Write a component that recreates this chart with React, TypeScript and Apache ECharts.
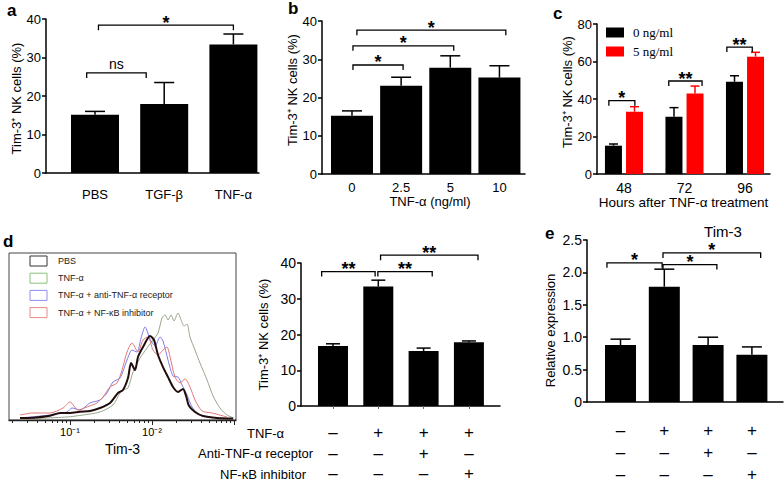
import React, { useEffect, useRef } from "react";
import * as echarts from "echarts";

const FONT = "'Liberation Sans', Arial, Helvetica, sans-serif";
const SERIF = "'Liberation Serif', 'Times New Roman', serif";

// ---------- Panel a ----------
const aCategories = ["PBS", "TGF-β", "TNF-α"];
const aValues = [15.1, 17.9, 33.4];
const aErrors = [0.9, 5.6, 2.7];
const aBrackets: any[] = [[-0.12, 0.74, 26.0, "ns"], [0.05, 2.0, 38.4, "*"]];

// ---------- Panel b ----------
const bCategories = ["0", "2.5", "5", "10"];
const bValues = [15.2, 23.1, 27.8, 25.2];
const bErrors = [1.3, 2.2, 3.1, 3.1];
const bBrackets: any[] = [[0.02, 1.04, 28.5, "*"], [0.02, 2.07, 33.5, "*"], [0.1, 3.13, 37.6, "*"]];

// ---------- Panel c ----------
const cCategories = ["48", "72", "96"];
const cSeriesNames = ["0 ng/ml", "5 ng/ml"];
const c0Values = [15.1, 30.6, 49.2];
const c0Errors = [0.9, 4.8, 3.2];
const c5Values = [33.2, 43.0, 62.6];
const c5Errors = [2.7, 3.9, 2.3];
const cBrackets: any[] = [[-0.25, 0.18, 39.1, "*"], [0.74, 1.29, 49.6, "**"], [1.7, 2.12, 67.7, "**"]];

// ---------- Panel d (histogram: [log10 intensity, % of max]) ----------
const histNames = ["PBS", "TNF-α", "TNF-α + anti-TNF-α receptor", "TNF-α + NF-κB inhibitor"];
const histTickValues = [1, 2];
const histTickLabels = ["10⁻¹", "10⁻²"];
const pbsHist = [[0.39, 1.2], [0.55, 1.4], [0.756, 2.6], [0.878, 4.2], [1.0, 4.2], [1.122, 5.0], [1.244, 5.4], [1.366, 7.2], [1.488, 10.2], [1.585, 16.2], [1.646, 18.0], [1.707, 25.1], [1.744, 34.1], [1.793, 29.9], [1.829, 37.7], [1.89, 43.7], [1.976, 50.3], [2.024, 47.9], [2.073, 38.9], [2.134, 31.7], [2.195, 25.7], [2.256, 19.8], [2.317, 16.8], [2.378, 18.6], [2.415, 14.4], [2.45, 8.5], [2.524, 4.8], [2.622, 2.4], [2.793, 1.2], [2.988, 0.9]];
const tnfHist = [[0.39, 0.6], [0.963, 1.8], [1.159, 3.0], [1.366, 4.8], [1.524, 9.0], [1.61, 16.2], [1.646, 18.0], [1.707, 19.2], [1.768, 28.7], [1.854, 37.1], [1.939, 43.1], [2.012, 47.9], [2.073, 52.1], [2.122, 61.1], [2.159, 62.9], [2.195, 59.9], [2.232, 62.9], [2.268, 59.3], [2.317, 64.1], [2.354, 59.9], [2.39, 56.3], [2.427, 57.5], [2.463, 49.7], [2.524, 41.9], [2.585, 34.1], [2.671, 24.0], [2.744, 14.4], [2.829, 7.2], [2.915, 3.0], [3.0, 1.2]];
const antiHist = [[0.39, 1.2], [0.756, 3.0], [0.963, 4.8], [1.024, 7.2], [1.122, 6.0], [1.244, 10.2], [1.366, 12.0], [1.451, 16.2], [1.524, 22.8], [1.61, 25.1], [1.695, 35.9], [1.756, 41.9], [1.817, 40.7], [1.866, 49.1], [1.915, 55.7], [1.976, 48.5], [2.037, 44.3], [2.098, 49.7], [2.134, 47.3], [2.195, 35.9], [2.256, 26.3], [2.317, 25.7], [2.366, 21.0], [2.427, 15.0], [2.488, 7.8], [2.585, 3.0], [2.793, 1.2], [2.95, 0.9]];
const nfkbHist = [[0.39, 3.0], [0.549, 4.2], [0.756, 4.2], [0.915, 7.2], [1.0, 10.8], [1.098, 6.0], [1.207, 7.8], [1.329, 10.2], [1.402, 13.8], [1.488, 19.8], [1.573, 22.2], [1.634, 29.9], [1.695, 40.7], [1.756, 46.1], [1.829, 40.7], [1.89, 47.9], [1.951, 49.7], [2.012, 41.9], [2.073, 38.9], [2.134, 41.9], [2.183, 43.7], [2.22, 37.7], [2.28, 25.7], [2.341, 22.2], [2.402, 24.6], [2.463, 19.8], [2.524, 12.0], [2.61, 5.4], [2.732, 4.2], [2.915, 1.8]];

// ---------- Panel d (bars) ----------
const dValues = [16.8, 33.4, 15.4, 17.8];
const dErrors = [0.6, 1.8, 0.8, 0.4];
const dBrackets: any[] = [[-0.25, 0.93, 37.6, "**"], [0.99, 2.19, 37.6, "**"], [1.05, 3.2, 42.2, "**"]];
const treatmentRows = ["TNF-α", "Anti-TNF-α receptor", "NF-κB inhibitor"];
const treatments = [["–", "–", "–"], ["+", "–", "–"], ["+", "+", "–"], ["+", "–", "+"]];

// ---------- Panel e ----------
const eTitle = "Tim-3";
const eValues = [0.88, 1.78, 0.88, 0.73];
const eErrors = [0.09, 0.27, 0.12, 0.12];
const eBrackets: any[] = [[-0.31, 0.95, 2.147, "*"], [0.97, 2.2, 2.12, "*"], [0.97, 3.2, 2.3, "*"]];

const AX = { color: "#000", width: 1.5 };

function catAxis(gridIndex: number, min: number, max: number, labels: string[] | null, extra: any = {}) {
  const idx = labels ? labels.map((_, i) => i) : [];
  return {
    type: "value",
    gridIndex,
    min,
    max,
    position: "bottom",
    axisLine: { show: true, onZero: false, lineStyle: AX },
    axisTick: { show: false },
    splitLine: { show: false },
    axisLabel: {
      show: !!labels,
      customValues: idx,
      formatter: (v: number) => (labels ? labels[Math.round(v)] ?? "" : ""),
      color: "#000",
      fontSize: 13,
      fontFamily: FONT,
    },
    ...extra,
  };
}

function valAxis(gridIndex: number, max: number, interval: number, name: string, nameGap: number, padding: number[], fontSize = 13, formatter?: any) {
  return {
    type: "value",
    gridIndex,
    min: 0,
    max,
    interval,
    position: "left",
    axisLine: { show: true, onZero: false, lineStyle: AX },
    axisTick: { show: true, length: 4, lineStyle: AX },
    splitLine: { show: false },
    axisLabel: { color: "#000", fontSize, margin: 5, fontFamily: FONT, formatter },
    name,
    nameLocation: "middle",
    nameGap,
    nameRotate: 90,
    nameTextStyle: { color: "#000", fontSize: 13, fontFamily: FONT, padding },
  };
}

function barSeries(xi: number, yi: number, values: number[], width: number, color: string, name?: string, extra: any = {}) {
  return {
    type: "bar",
    name,
    xAxisIndex: xi,
    yAxisIndex: yi,
    data: values.map((v, i) => [i, v]),
    barWidth: width,
    itemStyle: { color },
    z: 2,
    ...extra,
  };
}

function errorSeries(xi: number, yi: number, values: number[], errors: number[], offset: number, cap: number, color: string) {
  return {
    type: "custom",
    xAxisIndex: xi,
    yAxisIndex: yi,
    silent: true,
    z: 3,
    data: values.map((v, i) => [i, v, v + errors[i]]),
    encode: { x: 0, y: [1, 2] },
    renderItem: (params: any, api: any) => {
      const p1 = api.coord([api.value(0), api.value(1)]);
      const p2 = api.coord([api.value(0), api.value(2)]);
      const x = p1[0] + offset;
      const st = { stroke: color, lineWidth: 1.5 };
      return {
        type: "group",
        children: [
          { type: "line", shape: { x1: x, y1: p1[1], x2: x, y2: p2[1] }, style: st },
          { type: "line", shape: { x1: x - cap / 2, y1: p2[1], x2: x + cap / 2, y2: p2[1] }, style: st },
        ],
      };
    },
  };
}

function bracketSeries(xi: number, yi: number, brackets: any[]) {
  return {
    type: "custom",
    xAxisIndex: xi,
    yAxisIndex: yi,
    silent: true,
    clip: false,
    z: 4,
    data: brackets.map((b) => [b[0], b[1], b[2]]),
    encode: { x: [0, 1], y: 2 },
    renderItem: (params: any, api: any) => {
      const label = brackets[params.dataIndex][3];
      const p1 = api.coord([api.value(0), api.value(2)]);
      const p2 = api.coord([api.value(1), api.value(2)]);
      const leg = 5;
      const star = label.indexOf("*") >= 0;
      return {
        type: "group",
        children: [
          {
            type: "polyline",
            shape: { points: [[p1[0], p1[1] + leg], [p1[0], p1[1]], [p2[0], p2[1]], [p2[0], p2[1] + leg]] },
            style: { stroke: "#000", lineWidth: 1.3, fill: "none" },
          },
          {
            type: "text",
            x: (p1[0] + p2[0]) / 2,
            y: p1[1] + (star ? -2.5 : -9),
            style: {
              text: label,
              fontSize: star ? 18 : 14,
              fontWeight: star ? "bold" : "normal",
              fontFamily: FONT,
              fill: "#000",
              align: "center",
              verticalAlign: "middle",
            },
          },
        ],
      };
    },
  };
}

function histSeries(name: string, data: number[][], color: string, width: number) {
  return {
    type: "line",
    name,
    xAxisIndex: 3,
    yAxisIndex: 3,
    data,
    showSymbol: false,
    smooth: 0.25,
    lineStyle: { color, width },
    itemStyle: { color },
    z: 2,
  };
}

const minorTicks: number[] = [];
for (let n = 0; n < 3; n++) {
  for (let k = 2; k <= 9; k++) {
    const v = n + Math.log10(k);
    if (v > 0.26 && v < 3.02) minorTicks.push(v);
  }
}

function text(x: number, y: number, t: string, size: number, extra: any = {}) {
  return {
    type: "text",
    x,
    y,
    silent: true,
    style: { text: t, fontSize: size, fontFamily: FONT, fill: "#000", align: "left", verticalAlign: "middle", ...extra },
  };
}

const histLegendColors = ["#333333", "#8cc07a", "#8c8cf0", "#e88a8a"];

function buildOption() {
  const graphics: any[] = [
    text(7, 10, "a", 17, { fontWeight: "bold" }),
    text(288, 8, "b", 17, { fontWeight: "bold" }),
    text(553, 13, "c", 17, { fontWeight: "bold" }),
    text(3, 241, "d", 17, { fontWeight: "bold" }),
    text(545, 233, "e", 17, { fontWeight: "bold" }),
    text(723, 231, eTitle, 15, { align: "center" }),
    text(247, 433, treatmentRows[0], 13),
    text(198, 453.5, treatmentRows[1], 13),
    text(220, 474, treatmentRows[2], 13),
  ];
  histNames.forEach((n, i) => {
    const cy = 261 + i * 17.2;
    graphics.push({
      type: "rect",
      silent: true,
      shape: { x: 30, y: cy - 5, width: 17, height: 10 },
      style: { fill: "none", stroke: histLegendColors[i], lineWidth: 1 },
    });
    graphics.push(text(58, cy, n, 9, { fill: "#222" }));
  });

  const tLabels = treatments.map((t) => t.join("\n"));

  return {
    animation: false,
    backgroundColor: "#fff",
    textStyle: { fontFamily: FONT },
    grid: [
      { left: 46, top: 19, width: 213, height: 154 },
      { left: 322, top: 21, width: 203, height: 153 },
      { left: 597, top: 24, width: 173, height: 150 },
      { left: 9, top: 253, width: 227, height: 167, show: true, borderColor: "#444", borderWidth: 1, backgroundColor: "transparent" },
      { left: 301, top: 263, width: 199, height: 143 },
      { left: 587, top: 240, width: 196, height: 165 },
    ],
    legend: [
      {
        data: cSeriesNames,
        orient: "vertical",
        left: 606,
        top: 26,
        padding: 0,
        itemWidth: 18,
        itemHeight: 10,
        itemGap: 6,
        icon: "rect",
        selectedMode: false,
        textStyle: { fontFamily: SERIF, fontSize: 13, color: "#000", padding: [0, 0, 0, 4] },
      },
    ],
    xAxis: [
      catAxis(0, -0.708, 2.37, aCategories, { axisLabel: { customValues: [0, 1, 2], formatter: (v: number) => aCategories[Math.round(v)], color: "#000", fontSize: 13, margin: 15, fontFamily: FONT } }),
      catAxis(1, -0.61, 3.52, bCategories, {
        axisLabel: { customValues: [0, 1, 2, 3], formatter: (v: number) => bCategories[Math.round(v)], color: "#000", fontSize: 13, margin: 7, fontFamily: FONT },
        name: "TNF-α (ng/ml)",
        nameLocation: "middle",
        nameGap: 20,
        nameTextStyle: { color: "#000", fontSize: 13, fontFamily: FONT, padding: [0, 0, 0, 13] },
      }),
      catAxis(2, -0.446, 2.413, cCategories, {
        axisLabel: { customValues: [0, 1, 2], formatter: (v: number) => cCategories[Math.round(v)], color: "#000", fontSize: 14, margin: 7, fontFamily: FONT },
        name: "Hours after TNF-α treatment",
        nameLocation: "middle",
        nameGap: 19,
        nameTextStyle: { color: "#000", fontSize: 13.5, fontFamily: FONT },
      }),
      {
        type: "value",
        gridIndex: 3,
        min: 0.256,
        max: 3.024,
        position: "bottom",
        axisLine: { show: true, onZero: false, lineStyle: { color: "#222", width: 1.3 } },
        axisTick: { show: true, customValues: [1, 2, 3], length: 5, lineStyle: { color: "#222", width: 1 } },
        axisLabel: {
          customValues: histTickValues,
          formatter: (v: number) => histTickLabels[histTickValues.indexOf(Math.round(v))] ?? "",
          color: "#000",
          fontSize: 11,
          margin: 6,
          fontFamily: FONT,
        },
        splitLine: { show: false },
        name: "Tim-3",
        nameLocation: "middle",
        nameGap: 22,
        nameTextStyle: { color: "#000", fontSize: 14, fontFamily: FONT },
      },
      {
        type: "value",
        gridIndex: 3,
        min: 0.256,
        max: 3.024,
        position: "bottom",
        axisLine: { show: false, onZero: false },
        axisTick: { show: true, customValues: minorTicks, length: 3, lineStyle: { color: "#222", width: 1 } },
        axisLabel: { show: false },
        splitLine: { show: false },
      },
      catAxis(4, -0.706, 3.686, tLabels, {
        axisTick: { show: true, customValues: [0, 1, 2, 3], length: 3, lineStyle: { color: "#666", width: 1 } },
        axisLabel: { customValues: [0, 1, 2, 3], formatter: (v: number) => tLabels[Math.round(v)], color: "#000", fontSize: 17, lineHeight: 20.5, margin: 16.5, fontFamily: FONT },
      }),
      catAxis(5, -0.765, 3.71, tLabels, {
        axisLabel: { customValues: [0, 1, 2, 3], formatter: (v: number) => tLabels[Math.round(v)], color: "#000", fontSize: 17, lineHeight: 22, margin: 17, fontFamily: FONT },
      }),
    ],
    yAxis: [
      valAxis(0, 40, 10, "Tim-3⁺ NK cells (%)", 19.5, [0, 5, 0, 0]),
      valAxis(1, 40, 10, "Tim-3⁺ NK cells (%)", 20.5, [0, 0, 0, 15]),
      valAxis(2, 80, 20, "Tim-3⁺ NK cells (%)", 23.5, [0, 0, 0, 14]),
      { type: "value", gridIndex: 3, min: 0, max: 100, show: false, axisLine: { onZero: false }, splitLine: { show: false } },
      valAxis(4, 40, 10, "Tim-3⁺ NK cells (%)", 31.5, [0, 0, 0, 0], 14),
      valAxis(5, 2.5, 0.5, "Relative expression", 30.5, [0, 19, 0, 0], 14, (v: number) => (v === 0 ? "0" : v.toFixed(1))),
    ],
    graphic: graphics,
    series: [
      // a
      barSeries(0, 0, aValues, 48, "#000"),
      errorSeries(0, 0, aValues, aErrors, 0, 20, "#000"),
      bracketSeries(0, 0, aBrackets),
      // b
      barSeries(1, 1, bValues, 42, "#000"),
      errorSeries(1, 1, bValues, bErrors, 0, 20, "#000"),
      bracketSeries(1, 1, bBrackets),
      // c
      barSeries(2, 2, c0Values, 17, "#000", cSeriesNames[0], { barGap: "24%" }),
      barSeries(2, 2, c5Values, 17, "#ff0000", cSeriesNames[1], { barGap: "24%" }),
      errorSeries(2, 2, c0Values, c0Errors, -10.5, 9, "#000"),
      errorSeries(2, 2, c5Values, c5Errors, 10.5, 9, "#ff0000"),
      bracketSeries(2, 2, cBrackets),
      // d histogram
      histSeries(histNames[1], tnfHist, "#98a58c", 1),
      histSeries(histNames[2], antiHist, "#7c7ce8", 1),
      histSeries(histNames[3], nfkbHist, "#e07878", 1),
      histSeries(histNames[0], pbsHist, "#220c0c", 2),
      // d bars
      barSeries(5, 4, dValues, 30, "#000"),
      errorSeries(5, 4, dValues, dErrors, 0, 14, "#000"),
      bracketSeries(5, 4, dBrackets),
      // e
      barSeries(6, 5, eValues, 31, "#000"),
      errorSeries(6, 5, eValues, eErrors, 0, 20, "#000"),
      bracketSeries(6, 5, eBrackets),
    ],
  };
}

export default function App() {
  const ref = useRef<HTMLDivElement>(null);
  useEffect(() => {
    if (!ref.current) return;
    const chart = echarts.init(ref.current, null, { renderer: "svg" });
    chart.setOption(buildOption() as any);
    return () => chart.dispose();
  }, []);
  return (
    <div
      ref={ref}
      style={{ position: "fixed", left: 0, top: 0, width: 784, height: 485, background: "#fff" }}
    />
  );
}
